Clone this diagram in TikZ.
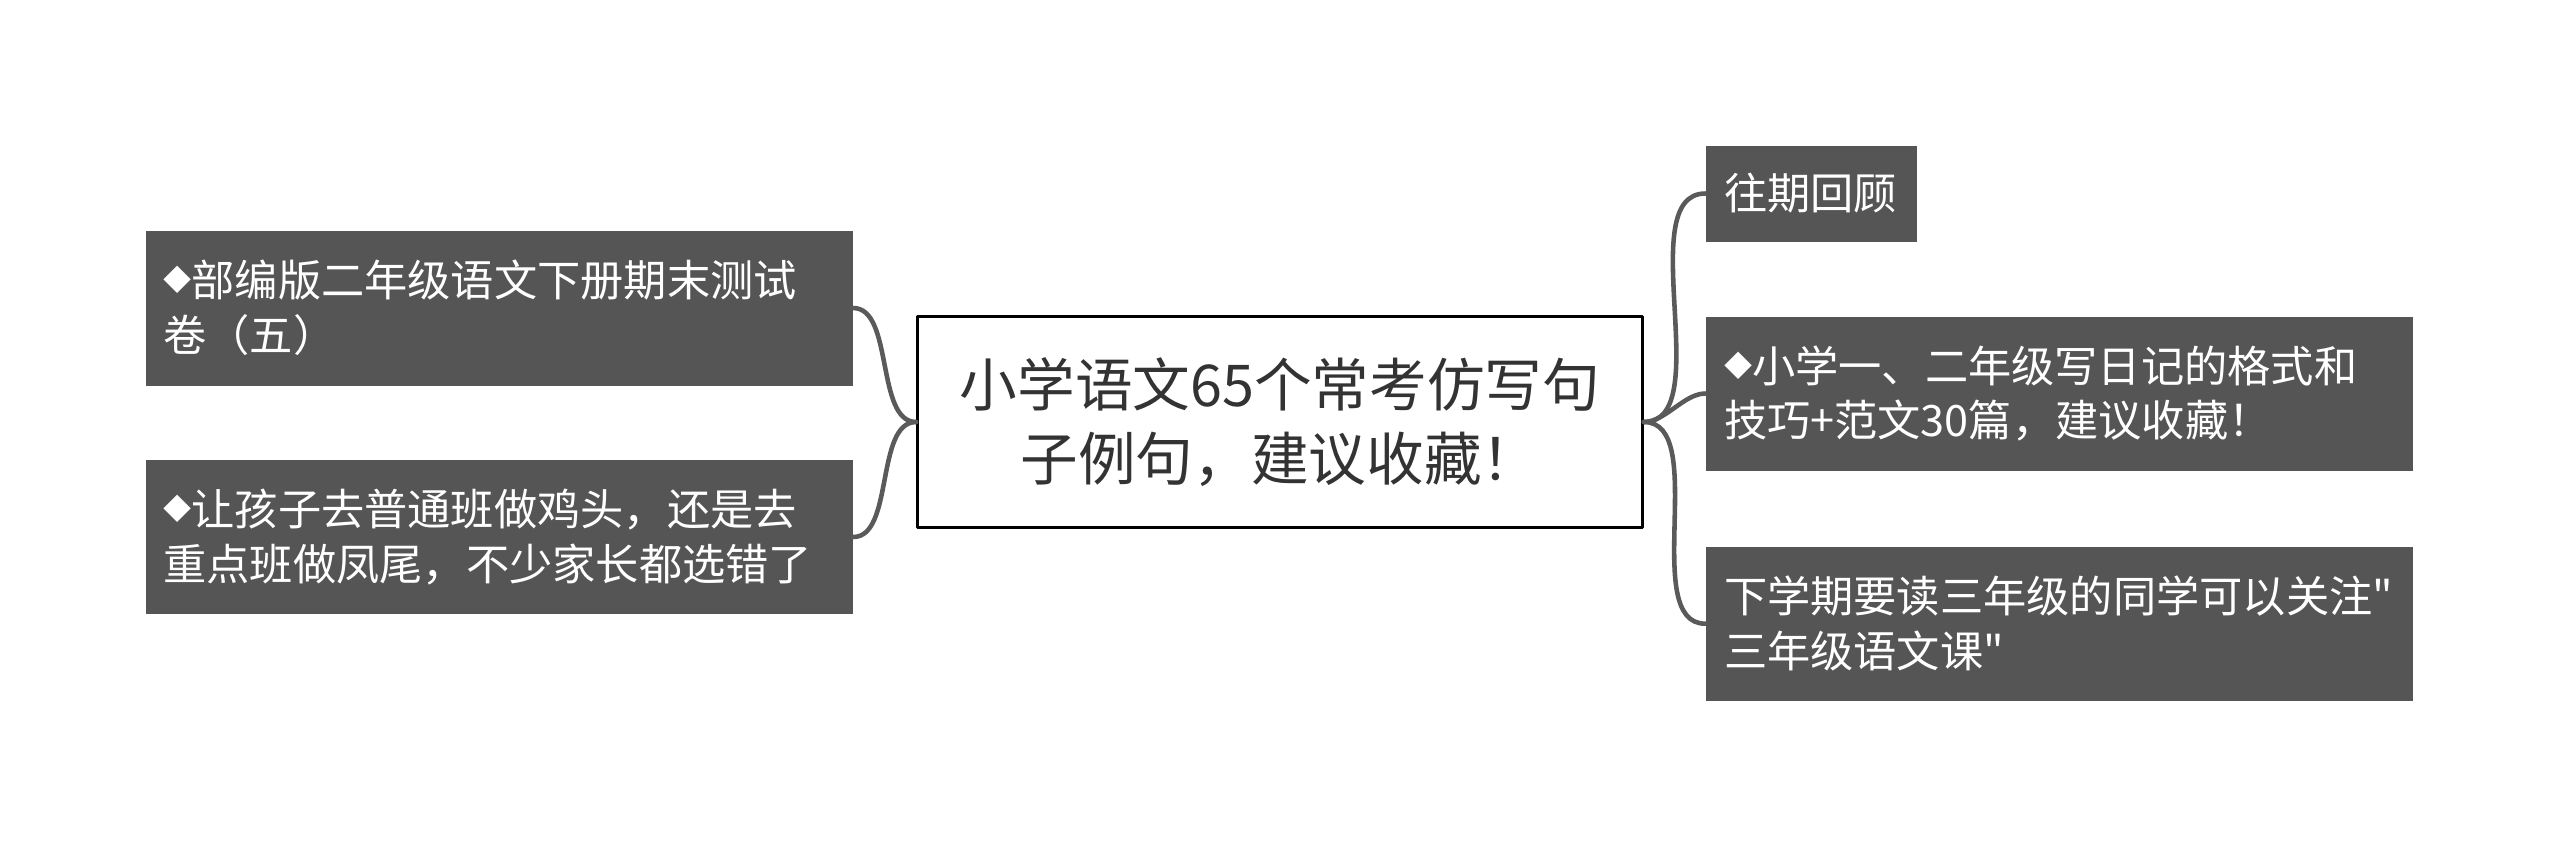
\documentclass[tikz,border=0pt]{standalone}
\usepackage{fontspec}
\setmainfont{Noto Sans CJK SC}[Ligatures=TeXOff]
\definecolor{leafgray}{HTML}{555555}
\definecolor{linegray}{HTML}{5A5A5A}
\definecolor{roottext}{HTML}{333333}
\newcommand{\dia}{\raisebox{0.25ex}{\fontsize{8}{8}\selectfont◆}}
\tikzset{
  leaf/.style={fill=leafgray, text=white, inner xsep=0.18cm, inner ysep=0pt, align=left, font=\fontsize{12.3}{15.6}\selectfont},
  root/.style={draw=black, line width=0.8pt, fill=white, text=roottext, align=center, minimum width=7.25cm, minimum height=2.11cm, text width=6.8cm, font=\fontsize{16.4}{21}\selectfont},
  branch/.style={draw=linegray, line width=1.3pt, line cap=round}
}
\begin{document}
\begin{tikzpicture}[line join=round]
			\useasboundingbox (0,0) rectangle (25.6,-8.45);
			\node[root] (r) at (12.80,-4.22) {小学语文65个常考仿写句\\子例句，建议收藏！};
			\node[leaf, text width=6.71cm, minimum height=1.55cm] (l1) at (4.99,-3.08) {\dia 部编版二年级语文下册期末测试\\卷（五）};
			\node[leaf, text width=6.71cm, minimum height=1.54cm] (l2) at (4.99,-5.37) {\dia 让孩子去普通班做鸡头，还是去\\重点班做凤尾，不少家长都选错了};
			\node[leaf, text width=1.75cm, minimum height=0.96cm] (r1) at (18.115,-1.935) {往期回顾};
			\node[leaf, text width=6.71cm, minimum height=1.54cm] (r2) at (20.595,-3.935) {\dia 小学一、二年级写日记的格式和\\技巧+范文30篇，建议收藏！};
			\node[leaf, text width=6.71cm, minimum height=1.54cm] (r3) at (20.595,-6.237) {下学期要读三年级的同学可以关注"\\三年级语文课"};
			\draw[branch] (r.west) to[out=180,in=0,looseness=0.8] (l1.east);
			\draw[branch] (r.west) to[out=180,in=0,looseness=0.8] (l2.east);
			\draw[branch] (r.east) to[out=0,in=180,looseness=0.8] (r1.west);
			\draw[branch] (r.east) to[out=0,in=180,looseness=0.8] (r2.west);
			\draw[branch] (r.east) to[out=0,in=180,looseness=0.8] (r3.west);
		\end{tikzpicture}
\end{document}
